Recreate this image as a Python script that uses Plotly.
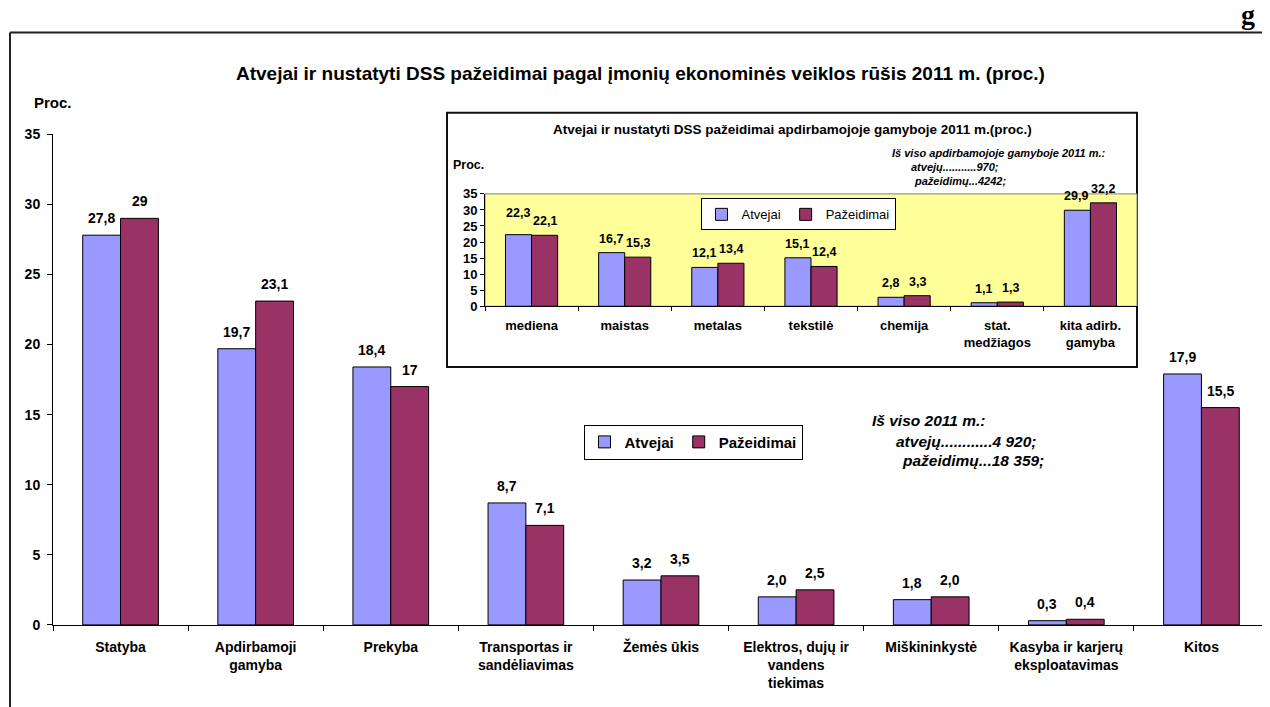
import plotly.graph_objects as go

# main chart data
categories = ["Statyba", "Apdirbamoji<br>gamyba", "Prekyba", "Transportas ir<br>sandėliavimas",
              "Žemės ūkis", "Elektros, dujų ir<br>vandens<br>tiekimas", "Miškininkystė",
              "Kasyba ir karjerų<br>eksploatavimas", "Kitos"]
atvejai = [27.8, 19.7, 18.4, 8.7, 3.2, 2.0, 1.8, 0.3, 17.9]
pazeidimai = [29, 23.1, 17, 7.1, 3.5, 2.5, 2.0, 0.4, 15.5]
atvejai_txt = ["27,8", "19,7", "18,4", "8,7", "3,2", "2,0", "1,8", "0,3", "17,9"]
pazeidimai_txt = ["29", "23,1", "17", "7,1", "3,5", "2,5", "2,0", "0,4", "15,5"]

# inset chart data (apdirbamoji gamyba)
inset_categories = ["mediena", "maistas", "metalas", "tekstilė", "chemija",
                    "stat.<br>medžiagos", "kita adirb.<br>gamyba"]
inset_atvejai = [22.3, 16.7, 12.1, 15.1, 2.8, 1.1, 29.9]
inset_pazeidimai = [22.1, 15.3, 13.4, 12.4, 3.3, 1.3, 32.2]
inset_atvejai_txt = ["22,3", "16,7", "12,1", "15,1", "2,8", "1,1", "29,9"]
inset_pazeidimai_txt = ["22,1", "15,3", "13,4", "12,4", "3,3", "1,3", "32,2"]

y_ticks = [0, 5, 10, 15, 20, 25, 30, 35]

BLUE = "#9999FF"
WINE = "#993366"
FONT = "Arial, Liberation Sans, sans-serif"
W, H = 1270, 707
OFF = 8  # page body margin


def px(x):
    return (x - OFF) / W


def py(y):
    return 1 - (y - OFF) / H


def note(x, y, text, size, bold=True, italic=False, xanchor="center", family=FONT):
    if italic:
        text = "<i>" + text + "</i>"
    return dict(x=px(x), y=py(y), xref="paper", yref="paper", showarrow=False, text=text,
                xanchor=xanchor, yanchor="middle",
                font=dict(size=size, family=family, color="black", weight="bold" if bold else "normal"))


fig = go.Figure()

fig.add_trace(go.Bar(x=categories, y=atvejai, name="Atvejai", marker=dict(color=BLUE, line=dict(color="black", width=1)),
                     xaxis="x", yaxis="y", legend="legend"))
fig.add_trace(go.Bar(x=categories, y=pazeidimai, name="Pažeidimai", marker=dict(color=WINE, line=dict(color="black", width=1)),
                     xaxis="x", yaxis="y", legend="legend"))
fig.add_trace(go.Bar(x=inset_categories, y=inset_atvejai, name="Atvejai", marker=dict(color=BLUE, line=dict(color="black", width=1)),
                     xaxis="x2", yaxis="y2", legend="legend2"))
fig.add_trace(go.Bar(x=inset_categories, y=inset_pazeidimai, name="Pažeidimai", marker=dict(color=WINE, line=dict(color="black", width=1)),
                     xaxis="x2", yaxis="y2", legend="legend2"))

annotations = []
# value labels, main chart
for vals, txt, dx in [(atvejai, atvejai_txt, -19), (pazeidimai, pazeidimai_txt, 19)]:
    for c, v, t in zip(categories, vals, txt):
        annotations.append(dict(x=c, y=v, xref="x", yref="y", text=t, showarrow=False, xshift=dx, yshift=17,
                                font=dict(size=14, family=FONT, color="black", weight="bold")))
# value labels, inset
for vals, txt, dx in [(inset_atvejai, inset_atvejai_txt, -14), (inset_pazeidimai, inset_pazeidimai_txt, 13)]:
    for i, (c, v, t) in enumerate(zip(inset_categories, vals, txt)):
        up = 22 if (dx < 0 and i == 0) else 14
        annotations.append(dict(x=c, y=v, xref="x2", yref="y2", text=t, showarrow=False, xshift=dx, yshift=up,
                                font=dict(size=12.5, family=FONT, color="black", weight="bold")))

annotations += [
    note(640, 67, "Atvejai ir nustatyti DSS pažeidimai pagal įmonių ekonominės veiklos rūšis 2011 m. (proc.)", 19),
    note(32, 96, "Proc.", 15, xanchor="left"),
    note(792, 124, "Atvejai ir nustatyti DSS pažeidimai apdirbamojoje gamyboje 2011 m.(proc.)", 13.5),
    note(451, 160, "Proc.", 12.5, xanchor="left"),
    note(890, 148, "Iš viso apdirbamojoje gamyboje 2011 m.:", 11, italic=True, xanchor="left"),
    note(909, 163, "atvejų...........970;", 11, italic=True, xanchor="left"),
    note(912, 177, "pažeidimų...4242;", 11, italic=True, xanchor="left"),
    note(870, 422, "Iš viso 2011 m.:", 15.5, italic=True, xanchor="left"),
    note(894, 443, "atvejų............4 920;", 15.5, italic=True, xanchor="left"),
    note(900, 463, "pažeidimų...18 359;", 15.5, italic=True, xanchor="left"),
    note(1248, 6, "g", 28, family="Liberation Serif, Times New Roman, serif"),
]

shapes = [
    # page frame
    dict(type="line", xref="paper", yref="paper", x0=px(10), x1=1, y0=py(25), y1=py(25),
         line=dict(color="#222222", width=2)),
    dict(type="line", xref="paper", yref="paper", x0=px(10), x1=px(10), y0=0, y1=py(25),
         line=dict(color="#222222", width=2)),
    # inset frame
    dict(type="rect", xref="paper", yref="paper", x0=px(447), x1=px(1137), y0=py(367), y1=py(107),
         fillcolor="white", line=dict(color="#111111", width=2), layer="below"),
    # inset plot area
    dict(type="rect", xref="x2 domain", yref="y2 domain", x0=0, x1=1, y0=0, y1=1,
         fillcolor="#FFFF99", line=dict(color="#808080", width=1), layer="below"),
]

fig.update_layout(
    width=W, height=H,
    margin=dict(l=0, r=0, t=0, b=0),
    paper_bgcolor="white",
    plot_bgcolor="rgba(0,0,0,0)",
    barmode="group",
    bargap=0.44,
    bargroupgap=0,
    font=dict(family=FONT, color="black"),
    xaxis=dict(domain=[px(53), px(1269)], anchor="y", showline=True, linecolor="black", linewidth=1,
               ticks="outside", tickson="boundaries", ticklen=5, tickcolor="black", ticklabelstandoff=9,
               tickfont=dict(size=14, weight="bold"), showgrid=False),
    yaxis=dict(domain=[py(631), py(129)], anchor="x", range=[0, 35], tickvals=y_ticks, showline=True,
               linecolor="black", linewidth=1, ticks="outside", ticklen=5, tickcolor="black", ticklabelstandoff=4,
               tickfont=dict(size=14, weight="bold"), showgrid=False, zeroline=False),
    xaxis2=dict(domain=[px(485), px(1137)], anchor="y2", showline=True, linecolor="black", linewidth=1,
                ticks="outside", tickson="boundaries", ticklen=4, tickcolor="black", ticklabelstandoff=7,
                tickfont=dict(size=13, weight="bold"), showgrid=False),
    yaxis2=dict(domain=[py(305), py(190)], anchor="x2", range=[0, 35], tickvals=y_ticks, showline=True,
                linecolor="black", linewidth=1, ticks="outside", ticklen=4, tickcolor="black",
                tickfont=dict(size=13, weight="bold"), showgrid=False, zeroline=False),
    legend=dict(x=px(693), y=py(444), xanchor="center", yanchor="middle", orientation="h",
                bgcolor="white", bordercolor="black", borderwidth=1, itemwidth=30,
                font=dict(size=15, weight="bold"), tracegroupgap=0),
    legend2=dict(x=px(798), y=py(211), xanchor="center", yanchor="middle", orientation="h",
                 bgcolor="white", bordercolor="black", borderwidth=1, itemwidth=30,
                 font=dict(size=13), tracegroupgap=0),
    annotations=annotations,
    shapes=shapes,
)

fig.write_html("out.html")
